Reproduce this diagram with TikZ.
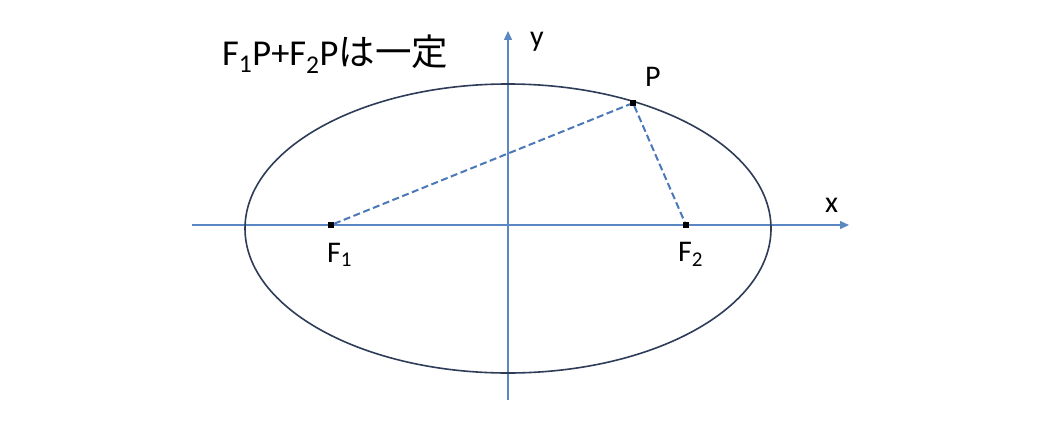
\documentclass[tikz,border=0pt]{standalone}
\usepackage{fontspec}
\setmainfont{Carlito}
\newfontfamily\cjk{Noto Sans CJK JP}
\usetikzlibrary{arrows.meta}
\definecolor{axisblue}{HTML}{5B87C2}
\definecolor{ellcol}{HTML}{2E3C58}
\definecolor{dashblue}{HTML}{4A78B8}
\tikzset{
  axis/.style={draw=axisblue, line width=1.4pt, -{Triangle[length=9pt,width=8pt]}},
  ell/.style={draw=ellcol, line width=1.6pt},
  dashln/.style={draw=dashblue, line width=2pt, dash pattern=on 7pt off 3.5pt},
  dot/.style={fill=black, minimum size=6pt, inner sep=0pt, outer sep=0pt, rectangle},
  lbl/.style={font=\fontsize{30}{32}\selectfont, inner sep=0pt},
}
\begin{document}
\begin{tikzpicture}[x=1pt,y=-1pt]
\useasboundingbox (0,0) rectangle (1040,420);
\fill[white] (0,0) rectangle (1040,420);
% axes
\coordinate (xs) at (192,225);
\coordinate (xe) at (849,225);
\coordinate (ys) at (508,400);
\coordinate (ye) at (508,31);
\draw[axis] (xs) -- (xe);
\draw[axis] (ys) -- (ye);
% ellipse
\draw[ell] (508,228.5) ellipse [x radius=263pt, y radius=144.5pt];
% points
\node[dot] (F1) at (331,225) {};
\node[dot] (F2) at (686,225) {};
\node[dot] (P) at (633,103) {};
\draw[dashln] (F1) -- (P) -- (F2);
% labels
\node[lbl, anchor=base west] (lF1) at (327,262) {F\textsubscript{1}};
\node[lbl, anchor=base west] (lF2) at (678,261) {F\textsubscript{2}};
\node[lbl, anchor=base west] (lP) at (645,86) {P};
\node[lbl, anchor=base west] (lx) at (825,212) {x};
\node[lbl, anchor=base west] (ly) at (530,46) {y};
\node[font=\fontsize{36.5}{38}\selectfont, inner sep=0pt, anchor=base west] (title) at (222,65) {F\textsubscript{1}P+F\textsubscript{2}P{\cjk は一定}};
\end{tikzpicture}
\end{document}
